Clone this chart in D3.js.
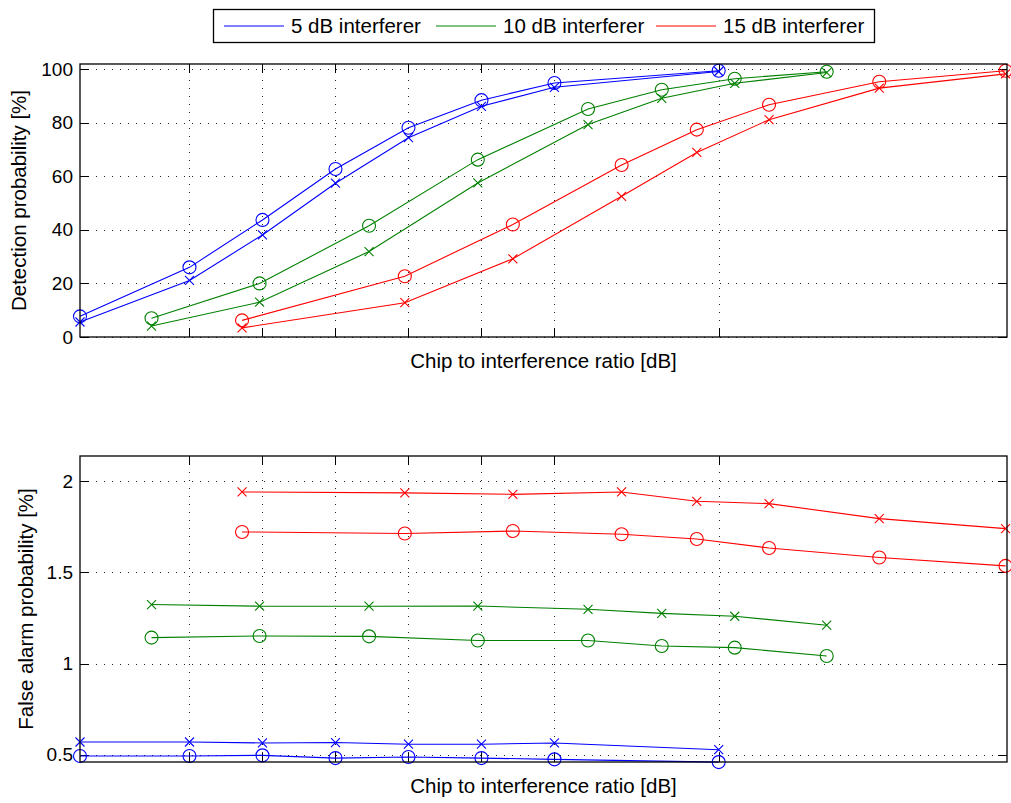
<!DOCTYPE html>
<html>
<head>
<meta charset="utf-8">
<script src="https://cdn.jsdelivr.net/npm/d3@7"></script>
<style>
  body { margin: 0; background: #fff; }
  text { font-family: "Liberation Sans", Arial, sans-serif; fill: #000; }
</style>
</head>
<body>
<svg id="chart"></svg>
<script>
const width = 1011;
const height = 803;

// chip to interference ratio (dB, relative) per interferer level
const xBlue = [0, 1.5, 2.5, 3.5, 4.5, 5.5, 6.5, 8.75];
const xGreen = [0.98, 2.46, 3.96, 5.45, 6.96, 7.97, 8.97, 10.23];
const xRed = [2.22, 4.45, 5.93, 7.42, 8.45, 9.44, 10.95, 12.68];

// detection probability [%]
const detBlueO = [7.7, 26.0, 43.7, 62.7, 78.1, 88.4, 94.8, 99.4];
const detBlueX = [5.6, 21.1, 38.1, 57.4, 74.4, 86.1, 93.2, 99.1];
const detGreenO = [7.0, 20.0, 41.5, 66.2, 85.1, 92.3, 96.4, 99.0];
const detGreenX = [4.1, 13.0, 31.9, 57.5, 79.3, 89.1, 94.7, 98.7];
const detRedO = [6.2, 22.7, 42.0, 64.2, 77.4, 86.7, 95.3, 99.4];
const detRedX = [3.4, 12.8, 29.2, 52.5, 68.9, 81.1, 92.9, 98.2];

// false alarm probability [%]
const faBlueX = [0.570, 0.570, 0.565, 0.567, 0.558, 0.558, 0.565, 0.528];
const faBlueO = [0.493, 0.493, 0.497, 0.482, 0.488, 0.482, 0.475, 0.460];
const faGreenX = [1.323, 1.314, 1.314, 1.315, 1.297, 1.275, 1.259, 1.210];
const faGreenO = [1.142, 1.151, 1.149, 1.126, 1.126, 1.096, 1.087, 1.041];
const faRedX = [1.940, 1.935, 1.927, 1.940, 1.889, 1.876, 1.794, 1.739];
const faRedO = [1.721, 1.712, 1.726, 1.708, 1.682, 1.633, 1.581, 1.535];

const legendNames = ["5 dB interferer", "10 dB interferer", "15 dB interferer"];
const colors = ["#0000ff", "#008000", "#ff0000"];
const xTicks = xBlue.slice(1);
const detTicks = [0, 20, 40, 60, 80, 100];
const faTicks = [0.5, 1, 1.5, 2];

const svg = d3.select("#chart").attr("width", width).attr("height", height);

const x = d3.scaleLinear().domain([0, 12.7]).range([80, 1007]);

function series(xs, o, xm, color) {
  return [
    { xs: xs, ys: o, marker: "o", color: color },
    { xs: xs, ys: xm, marker: "x", color: color }
  ];
}

function drawPanel(cfg) {
  const y = d3.scaleLinear().domain(cfg.domain).range([cfg.bottom, cfg.top]);
  const g = svg.append("g");

  //grid
  g.append("g")
    .selectAll("line")
    .data(xTicks)
    .join("line")
    .attr("x1", (d) => Math.round(x(d)) + 0.5)
    .attr("x2", (d) => Math.round(x(d)) + 0.5)
    .attr("y1", cfg.top)
    .attr("y2", cfg.bottom)
    .attr("stroke", "#222")
    .attr("stroke-width", 1)
    .attr("stroke-dasharray", "1,7");
  g.append("g")
    .selectAll("line")
    .data(cfg.ticks)
    .join("line")
    .attr("x1", 80)
    .attr("x2", 1007)
    .attr("y1", (d) => Math.round(y(d)) + 0.5)
    .attr("y2", (d) => Math.round(y(d)) + 0.5)
    .attr("stroke", "#222")
    .attr("stroke-width", 1)
    .attr("stroke-dasharray", "1,7");

  // tick marks (inside, all four sides)
  const tk = 9;
  const tg = g.append("g").attr("stroke", "#000").attr("stroke-width", 1);
  xTicks.forEach((t) => {
    const px = Math.round(x(t)) + 0.5;
    tg.append("line").attr("x1", px).attr("x2", px).attr("y1", cfg.bottom).attr("y2", cfg.bottom - tk);
    tg.append("line").attr("x1", px).attr("x2", px).attr("y1", cfg.top).attr("y2", cfg.top + tk);
  });
  cfg.ticks.forEach((t) => {
    const py = Math.round(y(t)) + 0.5;
    tg.append("line").attr("x1", 80).attr("x2", 80 + tk).attr("y1", py).attr("y2", py);
    tg.append("line").attr("x1", 1007).attr("x2", 1007 - tk).attr("y1", py).attr("y2", py);
  });

  // y tick labels
  g.append("g")
    .selectAll("text")
    .data(cfg.ticks)
    .join("text")
    .attr("x", 73)
    .attr("y", (d) => y(d))
    .attr("dy", "0.35em")
    .attr("text-anchor", "end")
    .style("font-size", "19px")
    .text((d) => d);

  // data
  const line = d3
    .line()
    .x((d) => x(d[0]))
    .y((d) => y(d[1]));

  cfg.series.forEach((s) => {
    const pts = s.xs.map((v, i) => [v, s.ys[i]]);
    g.append("path")
      .attr("d", line(pts))
      .attr("fill", "none")
      .attr("stroke", s.color)
      .attr("stroke-width", 1.1);
    if (s.marker == "o") {
      g.append("g")
        .selectAll("circle")
        .data(pts)
        .join("circle")
        .attr("cx", (d) => x(d[0]))
        .attr("cy", (d) => y(d[1]))
        .attr("r", 6.5)
        .attr("fill", "none")
        .attr("stroke", s.color)
        .attr("stroke-width", 1.1);
    } else {
      const m = 4.5;
      g.append("g")
        .selectAll("path")
        .data(pts)
        .join("path")
        .attr("d", (d) => {
          const cx = x(d[0]);
          const cy = y(d[1]);
          return `M${cx - m},${cy - m}L${cx + m},${cy + m}M${cx - m},${cy + m}L${cx + m},${cy - m}`;
        })
        .attr("fill", "none")
        .attr("stroke", s.color)
        .attr("stroke-width", 1.1);
    }
  });

  // box
  g.append("rect")
    .attr("x", 80)
    .attr("y", cfg.top)
    .attr("width", 1007 - 80)
    .attr("height", cfg.bottom - cfg.top)
    .attr("fill", "none")
    .attr("stroke", "#000")
    .attr("stroke-width", 1.3);

  // labels
  g.append("text")
    .attr("x", (80 + 1007) / 2)
    .attr("y", cfg.bottom + 31)
    .attr("text-anchor", "middle")
    .style("font-size", "20.5px")
    .text("Chip to interference ratio [dB]");

  g.append("text")
    .attr("transform", `translate(${cfg.ylabelX}, ${(cfg.top + cfg.bottom) / 2}) rotate(-90)`)
    .attr("text-anchor", "middle")
    .style("font-size", "20.5px")
    .text(cfg.ylabel);
}

drawPanel({
  top: 64,
  bottom: 337,
  domain: [0, 101.9],
  ticks: detTicks,
  ylabel: "Detection probability [%]",
  ylabelX: 26,
  series: [
    ...series(xBlue, detBlueO, detBlueX, colors[0]),
    ...series(xGreen, detGreenO, detGreenX, colors[1]),
    ...series(xRed, detRedO, detRedX, colors[2])
  ]
});

drawPanel({
  top: 456,
  bottom: 762,
  domain: [0.4605, 2.137],
  ticks: faTicks,
  ylabel: "False alarm probability [%]",
  ylabelX: 33,
  series: [
    ...series(xBlue, faBlueO, faBlueX, colors[0]),
    ...series(xGreen, faGreenO, faGreenX, colors[1]),
    ...series(xRed, faRedO, faRedX, colors[2])
  ]
});

// legend
const legend = svg.append("g");
legend
  .append("rect")
  .attr("x", 213.5)
  .attr("y", 9.5)
  .attr("width", 661)
  .attr("height", 33)
  .attr("fill", "#fff")
  .attr("stroke", "#000")
  .attr("stroke-width", 1.3);

const legendX = [224, 436, 656];
legendNames.forEach((name, i) => {
  legend
    .append("line")
    .attr("x1", legendX[i])
    .attr("x2", legendX[i] + 60)
    .attr("y1", 26)
    .attr("y2", 26)
    .attr("stroke", colors[i])
    .attr("stroke-width", 1.1);
  legend
    .append("text")
    .attr("x", legendX[i] + 67)
    .attr("y", 26)
    .attr("dy", "0.35em")
    .style("font-size", "20.5px")
    .text(name);
});
</script>
</body>
</html>
